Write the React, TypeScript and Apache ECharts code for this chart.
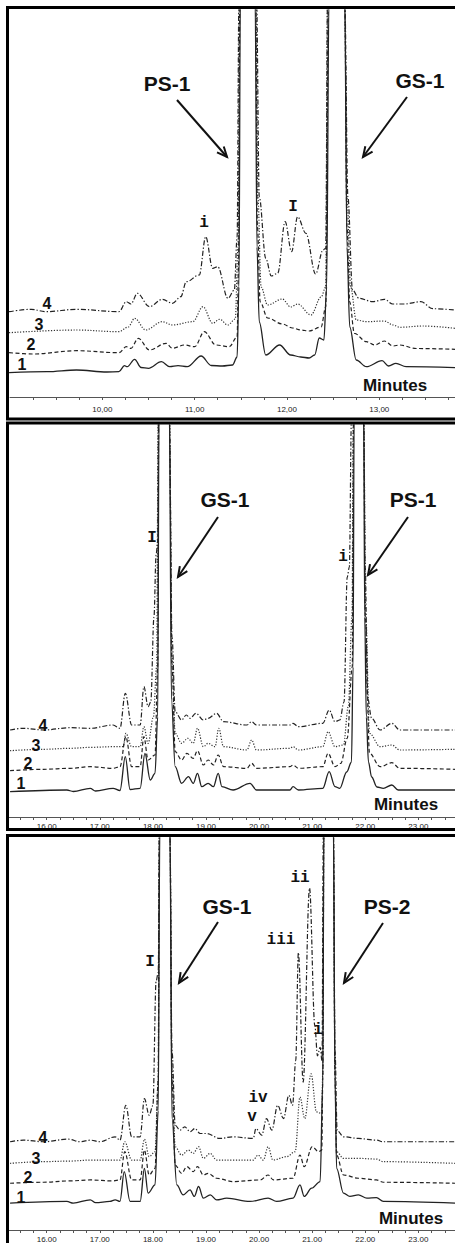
import React, { useEffect, useRef } from "react";
import * as echarts from "echarts";

type Pt = [number, number];

// ---------- Panel 1 : retention time (min) vs detector response (a.u.) ----------
const p1Trace1: Pt[] = [
  [8.99, 24.3], [9.4, 25.3], [9.72, 27], [10.05, 25], [10.18, 25.3], [10.24, 31.3], [10.27, 30.3],
  [10.35, 37.7], [10.42, 29.5], [10.5, 28.7], [10.64, 35.3], [10.73, 30.3], [10.82, 31.3], [10.92, 30.3],
  [11.07, 41], [11.18, 31.5], [11.3, 31], [11.41, 32], [11.46, 40], [11.48, 110], [11.495, 400],
  [11.575, 2000], [11.655, 400], [11.675, 150], [11.7, 75], [11.77, 42], [11.92, 52], [12.04, 42],
  [12.15, 40], [12.24, 39], [12.3, 42], [12.35, 59], [12.4, 57], [12.43, 110], [12.455, 400],
  [12.535, 2000], [12.625, 400], [12.65, 150], [12.68, 70], [12.75, 37], [12.86, 30.3], [13.03, 36.3],
  [13.1, 31], [13.18, 33.7], [13.29, 30.3], [13.82, 29.3],
];
const p1Trace2: Pt[] = [
  [8.99, 44.3], [9.25, 43], [9.72, 46.3], [10.18, 44.3], [10.26, 50.3], [10.31, 48.7], [10.39, 58.7],
  [10.51, 47], [10.69, 53.7], [10.76, 48.7], [10.89, 52], [11.0, 50.3], [11.105, 65.3], [11.23, 52],
  [11.375, 50.3], [11.46, 60], [11.475, 130], [11.49, 400], [11.575, 2000], [11.66, 400], [11.68, 170],
  [11.71, 95], [11.79, 79], [11.95, 73], [12.06, 69], [12.15, 67], [12.24, 66], [12.37, 70], [12.42, 90],
  [12.45, 400], [12.535, 2000], [12.625, 400], [12.65, 170], [12.68, 95], [12.73, 63.7], [12.86, 55.3],
  [12.95, 52], [13.055, 56], [13.15, 51], [13.22, 52], [13.4, 48.5], [13.82, 47.7],
];
const p1Trace3: Pt[] = [
  [8.99, 64.3], [9.72, 67], [10.18, 65.3], [10.28, 70], [10.35, 78.7], [10.47, 67], [10.65, 75.3],
  [10.76, 72], [10.98, 75.3], [11.09, 90.3], [11.195, 73.7], [11.27, 77.7], [11.36, 72], [11.44, 78],
  [11.47, 150], [11.485, 400], [11.575, 2000], [11.665, 400], [11.685, 200], [11.72, 110], [11.79, 92],
  [11.95, 98], [12.04, 90], [12.115, 93], [12.26, 82], [12.37, 100], [12.42, 110], [12.44, 400],
  [12.535, 2000], [12.625, 400], [12.65, 200], [12.69, 110], [12.75, 77], [12.86, 75.3], [13.055, 76],
  [13.15, 72], [13.22, 69.7], [13.47, 71], [13.82, 68.7],
];
const p1Trace4: Pt[] = [
  [8.99, 85.3], [9.23, 87.7], [9.39, 85.3], [9.72, 87.7], [10.18, 85.3], [10.26, 95.3], [10.31, 93],
  [10.38, 103.7], [10.51, 90.3], [10.65, 97.7], [10.76, 93.7], [10.85, 100.3], [10.91, 115.3],
  [11.05, 122], [11.12, 160.3], [11.195, 128.7], [11.25, 130.3], [11.36, 98.7], [11.43, 107],
  [11.46, 160], [11.48, 400], [11.575, 2000], [11.67, 400], [11.7, 200], [11.77, 138.7], [11.83, 121],
  [11.9, 123.7], [11.98, 175.3], [12.05, 145.3], [12.115, 180.3], [12.205, 163.7], [12.31, 123],
  [12.39, 147], [12.42, 148.7], [12.44, 400], [12.535, 2000], [12.625, 400], [12.66, 200], [12.71, 107],
  [12.78, 98.7], [12.93, 95.3], [13.055, 97.7], [13.145, 93], [13.27, 93], [13.45, 95.3], [13.58, 88.3],
  [13.82, 87],
];

// ---------- Panel 2 ----------
const p2Trace1: Pt[] = [
  [15.31, 25.3], [16.38, 27], [16.5, 25.5], [16.82, 28.7], [16.92, 26], [17.25, 28.7], [17.38, 26.5],
  [17.48, 60.3], [17.57, 27.5], [17.76, 28.7], [17.85, 63.7], [17.95, 37], [18.04, 43.7], [18.09, 100],
  [18.115, 400], [18.21, 2000], [18.31, 400], [18.35, 117], [18.42, 50.3], [18.54, 33.7], [18.67, 40.3],
  [18.76, 33.7], [18.84, 43.7], [18.92, 30.3], [19.04, 33.7], [19.14, 30.3], [19.23, 43.7], [19.3, 30.3],
  [19.51, 27], [19.83, 33.7], [19.95, 27], [20.58, 27], [20.64, 30.3], [20.74, 27], [21.2, 28.7],
  [21.32, 45.3], [21.43, 30.3], [21.52, 28.7], [21.65, 45], [21.74, 55], [21.77, 150], [21.79, 400],
  [21.88, 2000], [21.97, 400], [21.99, 200], [22.02, 100], [22.06, 55], [22.12, 40], [22.22, 30],
  [22.34, 28.7], [22.5, 32], [22.62, 27], [23.69, 27],
];
const p2Trace2: Pt[] = [
  [15.31, 46.3], [15.94, 47.7], [16.44, 48.7], [16.82, 50.3], [17.25, 48.7], [17.38, 50.3], [17.49, 80.3],
  [17.6, 50.3], [17.76, 50.3], [17.83, 80.3], [17.91, 57], [18.04, 62], [18.09, 150], [18.11, 400],
  [18.21, 2000], [18.31, 400], [18.36, 150], [18.42, 65.3], [18.54, 57], [18.64, 63.7], [18.76, 58.7],
  [18.84, 66.3], [18.95, 52], [19.04, 57], [19.14, 52], [19.23, 62], [19.33, 50.3], [19.77, 48.7],
  [19.86, 53.7], [19.95, 48.7], [20.58, 50.3], [20.64, 52], [20.74, 48.7], [21.2, 50.3], [21.3, 63.7],
  [21.43, 50.3], [21.54, 53.7], [21.66, 78.7], [21.755, 150], [21.78, 400], [21.88, 2000], [21.97, 400],
  [22.0, 200], [22.08, 63.7], [22.28, 50.3], [22.5, 54.3], [22.65, 48.7], [23.69, 47.7],
];
const p2Trace3: Pt[] = [
  [15.31, 66.3], [15.94, 67.7], [16.44, 68.7], [16.85, 69.7], [17.25, 70.3], [17.44, 70.3], [17.49, 83.7],
  [17.6, 70.3], [17.76, 70.3], [17.83, 90.3], [17.91, 73.7], [18.01, 100.3], [18.07, 150], [18.1, 400],
  [18.21, 2000], [18.31, 400], [18.36, 160], [18.42, 83.7], [18.54, 73.7], [18.66, 78.7], [18.76, 73.7],
  [18.84, 88.7], [18.95, 70.3], [19.04, 73.7], [19.17, 70.3], [19.24, 88.7], [19.33, 70.3], [19.77, 67],
  [19.86, 77], [19.95, 67], [20.58, 68.7], [20.64, 70.3], [20.74, 67], [21.2, 70.3], [21.3, 85.3],
  [21.43, 70.3], [21.59, 72], [21.68, 110.3], [21.75, 200], [21.775, 400], [21.88, 2000], [21.97, 400],
  [22.01, 200], [22.08, 83.7], [22.28, 70.3], [22.5, 72], [22.65, 67], [23.69, 67.7],
];
const p2Trace4: Pt[] = [
  [15.31, 87], [15.56, 88.7], [15.94, 87], [16.44, 89.3], [16.82, 88.7], [17.25, 92], [17.38, 88.7],
  [17.48, 123.7], [17.6, 92], [17.76, 92], [17.83, 130.3], [17.91, 110.3], [17.96, 115], [18.02, 200],
  [18.06, 262], [18.09, 275], [18.105, 400], [18.21, 2000], [18.31, 400], [18.36, 180], [18.42, 105.3],
  [18.54, 97], [18.63, 102], [18.7, 98.7], [18.81, 103.7], [18.95, 97], [19.04, 98.7], [19.2, 103.7],
  [19.33, 95.3], [19.77, 92], [19.86, 95.3], [19.95, 92], [20.58, 92], [20.64, 93.7], [20.74, 90.3],
  [21.2, 93.7], [21.32, 107], [21.43, 95.3], [21.52, 97], [21.6, 115], [21.66, 240], [21.7, 250],
  [21.74, 400], [21.88, 2000], [21.97, 400], [22.0, 250], [22.04, 120.3], [22.12, 98.7], [22.28, 87],
  [22.5, 93.7], [22.65, 87], [23.69, 87],
];

// ---------- Panel 3 ----------
const p3Trace1: Pt[] = [
  [15.31, 27], [16.38, 28.7], [16.5, 27], [16.82, 30.3], [16.92, 27.5], [17.19, 28.7], [17.29, 30.3],
  [17.38, 28.7], [17.46, 58.7], [17.57, 28.7], [17.76, 28.7], [17.84, 62], [17.91, 37], [18.04, 45.3],
  [18.1, 120], [18.13, 400], [18.22, 2000], [18.32, 400], [18.36, 112], [18.45, 45.3], [18.57, 35.3],
  [18.7, 40.3], [18.78, 33.7], [18.86, 43.7], [18.95, 32], [19.08, 35.3], [19.2, 30.3], [19.39, 32],
  [19.83, 28.7], [20.17, 32], [20.33, 28.7], [20.64, 32], [20.77, 45.3], [20.85, 33.7], [20.99, 42],
  [21.15, 48.7], [21.2, 150], [21.22, 400], [21.3, 2000], [21.4, 400], [21.43, 150], [21.46, 62],
  [21.59, 37], [21.71, 33.7], [21.87, 35.3], [22.03, 32], [22.21, 32.5], [22.34, 28.7], [23.69, 27],
];
const p3Trace2: Pt[] = [
  [15.31, 47], [15.94, 48], [16.41, 49.3], [16.82, 50.3], [17.25, 49.3], [17.38, 50.3], [17.47, 78.7],
  [17.6, 50.3], [17.76, 50.3], [17.84, 80.3], [17.93, 55.3], [18.04, 62], [18.1, 150], [18.12, 400],
  [18.22, 2000], [18.32, 400], [18.36, 150], [18.42, 65.3], [18.54, 57], [18.64, 63.7], [18.76, 58.7],
  [18.84, 63.7], [18.95, 55.3], [19.04, 57], [19.2, 52], [19.51, 48.7], [20.02, 50.3], [20.17, 55.3],
  [20.27, 50.3], [20.64, 52], [20.77, 75.3], [20.85, 63.7], [21.0, 83.7], [21.12, 78.7], [21.18, 80.3],
  [21.2, 150], [21.22, 400], [21.3, 2000], [21.4, 400], [21.43, 150], [21.46, 75.3], [21.59, 55.3],
  [21.87, 52], [22.21, 50.3], [22.34, 48], [23.69, 47],
];
const p3Trace3: Pt[] = [
  [15.31, 67], [15.94, 68.7], [16.44, 69.3], [16.82, 70.3], [17.25, 70.3], [17.38, 70.3], [17.47, 88.7],
  [17.6, 70.3], [17.76, 70.3], [17.84, 91.3], [17.93, 73.7], [18.04, 78.7], [18.1, 150], [18.12, 400],
  [18.22, 2000], [18.32, 400], [18.36, 160], [18.42, 83.7], [18.54, 75.3], [18.67, 80.3], [18.76, 77],
  [18.86, 83.7], [18.95, 72], [19.08, 77], [19.2, 70.3], [19.51, 70.3], [19.89, 70.3], [19.98, 75.3],
  [20.08, 70.3], [20.17, 83.7], [20.26, 70.3], [20.52, 73.7], [20.68, 78.7], [20.77, 133.7], [20.86, 112],
  [20.98, 157], [21.08, 118.7], [21.18, 117], [21.2, 160], [21.22, 400], [21.3, 2000], [21.4, 400],
  [21.43, 160], [21.46, 78.7], [21.59, 72], [21.87, 72], [22.21, 71.3], [22.34, 68.7], [23.69, 67],
];
const p3Trace4: Pt[] = [
  [15.31, 88.7], [15.56, 90.3], [15.94, 88.7], [16.41, 91.3], [16.63, 88.7], [16.82, 90.3], [17.0, 88.7],
  [17.29, 93.7], [17.38, 90.3], [17.49, 125.3], [17.6, 93.7], [17.76, 93.7], [17.84, 132], [17.93, 115.3],
  [18.0, 125], [18.06, 250], [18.1, 258.7], [18.125, 400], [18.22, 2000], [18.32, 400], [18.36, 180],
  [18.42, 105.3], [18.51, 100.3], [18.6, 103.7], [18.7, 98.7], [18.79, 102], [18.89, 97], [19.01, 97],
  [19.26, 92], [19.51, 93.7], [19.89, 92], [19.94, 102], [20.05, 95.3], [20.14, 112], [20.24, 100.3],
  [20.35, 125.3], [20.46, 112], [20.56, 135.3], [20.63, 125.3], [20.69, 170], [20.74, 278.7],
  [20.83, 148.7], [20.95, 343.7], [21.05, 205.3], [21.1, 175], [21.15, 183.7], [21.185, 170],
  [21.21, 400], [21.3, 2000], [21.4, 400], [21.43, 180], [21.47, 100], [21.59, 93.7], [21.87, 92],
  [22.21, 90.3], [22.34, 88.7], [23.69, 88.7],
];

const traceNames = ["1", "2", "3", "4"];
const axisTitle = "Minutes";
const p1PeakLabels = ["PS-1", "GS-1"];
const p2PeakLabels = ["GS-1", "PS-1"];
const p3PeakLabels = ["GS-1", "PS-2"];
const p1Impurities = ["i", "I"];
const p2Impurities = ["I", "i"];
const p3Impurities = ["I", "ii", "iii", "i", "iv", "v"];

const lineTypes: any[] = ["solid", [4, 2.5], [1.2, 1.6], [5, 2, 1.3, 2]];

const SANS = '"Liberation Sans", Arial, Helvetica, sans-serif';
const MONO = '"Liberation Mono", "Courier New", monospace';

function txt(text: string, x: number, y: number, size: number, family: string) {
  return {
    type: "text",
    z: 100,
    x,
    y,
    style: {
      text,
      fill: "#111",
      fontSize: size,
      fontWeight: "bold",
      fontFamily: family,
      align: "center",
      verticalAlign: "middle",
    },
  };
}

function arrow(x1: number, y1: number, x2: number, y2: number) {
  const ang = Math.atan2(y2 - y1, x2 - x1);
  const L = 11;
  const a = 0.42;
  const h1 = [x2 - L * Math.cos(ang - a), y2 - L * Math.sin(ang - a)];
  const h2 = [x2 - L * Math.cos(ang + a), y2 - L * Math.sin(ang + a)];
  return [
    { type: "line", z: 100, shape: { x1, y1, x2, y2 }, style: { stroke: "#111", lineWidth: 2 } },
    {
      type: "polyline",
      z: 100,
      shape: { points: [h1, [x2, y2], h2] },
      style: { stroke: "#111", lineWidth: 2, fill: null },
    },
  ];
}

export default function App() {
  const ref = useRef<HTMLDivElement>(null);

  useEffect(() => {
    if (!ref.current) return;
    const chart = echarts.init(ref.current, null, { renderer: "svg" });

    const panels = [
      { grid: { left: 10, top: 10, width: 445, height: 387 }, min: 9.0, max: 13.82, yMax: 387, sep: ",", margin: 8,
        traces: [p1Trace1, p1Trace2, p1Trace3, p1Trace4] },
      { grid: { left: 6.9, top: 425, width: 448.1, height: 392 }, min: 15.25, max: 23.69, yMax: 392, sep: ".", margin: 5,
        traces: [p2Trace1, p2Trace2, p2Trace3, p2Trace4] },
      { grid: { left: 6.9, top: 838, width: 448.1, height: 394 }, min: 15.25, max: 23.69, yMax: 394, sep: ".", margin: 5,
        traces: [p3Trace1, p3Trace2, p3Trace3, p3Trace4] },
    ];

    const series: any[] = [];
    panels.forEach((p, pi) => {
      p.traces.forEach((data, ti) => {
        series.push({
          type: "line",
          name: `P${pi + 1}-${traceNames[ti]}`,
          xAxisIndex: pi,
          yAxisIndex: pi,
          data,
          showSymbol: false,
          symbol: "none",
          smooth: 0.35,
          smoothMonotone: "x",
          clip: true,
          silent: true,
          lineStyle: { type: lineTypes[ti], width: ti === 0 ? 1.3 : 1.2, color: ti === 2 ? "#333" : "#222" },
          z: 10 - ti,
        });
      });
    });

    const graphic: any[] = [
      // panel frames
      { type: "rect", z: 90, shape: { x: 7.5, y: 7.5, width: 460, height: 411.5 }, style: { fill: null, stroke: "#000", lineWidth: 3 } },
      { type: "rect", z: 90, shape: { x: 7.5, y: 423, width: 460, height: 406.5 }, style: { fill: null, stroke: "#000", lineWidth: 3 } },
      { type: "rect", z: 90, shape: { x: 7.5, y: 835.5, width: 460, height: 500 }, style: { fill: null, stroke: "#000", lineWidth: 3 } },

      // panel 1
      txt(p1PeakLabels[0], 167, 83, 21, SANS),
      txt(p1PeakLabels[1], 420, 80, 21, SANS),
      ...arrow(177, 100, 227, 157),
      ...arrow(407, 97, 363, 157),
      txt(p1Impurities[0], 204, 223, 16, MONO),
      txt(p1Impurities[1], 293, 207, 16, MONO),
      txt(axisTitle, 395, 385, 17, SANS),
      txt(traceNames[3], 47, 303, 16, SANS),
      txt(traceNames[2], 39, 324, 16, SANS),
      txt(traceNames[1], 31, 344, 16, SANS),
      txt(traceNames[0], 22, 364, 16, SANS),

      // panel 2
      txt(p2PeakLabels[0], 225, 499, 21, SANS),
      txt(p2PeakLabels[1], 413, 499, 21, SANS),
      ...arrow(218, 517, 178, 577),
      ...arrow(408, 517, 368, 575),
      txt(p2Impurities[0], 152, 538, 16, MONO),
      txt(p2Impurities[1], 343, 557, 16, MONO),
      txt(axisTitle, 406, 804, 17, SANS),
      txt(traceNames[3], 43, 725, 16, SANS),
      txt(traceNames[2], 36, 745, 16, SANS),
      txt(traceNames[1], 28, 763, 16, SANS),
      txt(traceNames[0], 21, 783, 16, SANS),

      // panel 3
      txt(p3PeakLabels[0], 227, 906, 21, SANS),
      txt(p3PeakLabels[1], 387, 906, 21, SANS),
      ...arrow(218, 922, 179, 983),
      ...arrow(383, 923, 344, 983),
      txt(p3Impurities[0], 150, 962, 16, MONO),
      txt(p3Impurities[1], 300, 878, 16, MONO),
      txt(p3Impurities[2], 281, 940, 16, MONO),
      txt(p3Impurities[3], 318, 1030, 16, MONO),
      txt(p3Impurities[4], 258, 1098, 16, MONO),
      txt(p3Impurities[5], 252, 1117, 16, MONO),
      txt(axisTitle, 411, 1218, 17, SANS),
      txt(traceNames[3], 43, 1137, 16, SANS),
      txt(traceNames[2], 36, 1158, 16, SANS),
      txt(traceNames[1], 28, 1177, 16, SANS),
      txt(traceNames[0], 21, 1197, 16, SANS),
    ];

    chart.setOption({
      animation: false,
      backgroundColor: "#fff",
      grid: panels.map((p) => ({ ...p.grid, containLabel: false })),
      xAxis: panels.map((p, i) => ({
        type: "value",
        gridIndex: i,
        min: p.min,
        max: p.max,
        interval: 0.25,
        splitLine: { show: false },
        axisLine: { show: true, onZero: false, lineStyle: { color: "#555", width: 1 } },
        axisTick: { show: true, inside: false, length: 3, lineStyle: { color: "#555" } },
        axisLabel: {
          show: true,
          interval: 0,
          margin: p.margin,
          fontSize: 8,
          color: "#222",
          fontFamily: SANS,
          showMinLabel: false,
          showMaxLabel: false,
          formatter: (v: number) =>
            Math.abs(v - Math.round(v)) < 1e-6 ? Math.round(v).toFixed(2).replace(".", p.sep) : "",
        },
      })),
      yAxis: panels.map((p, i) => ({
        type: "value",
        gridIndex: i,
        min: 0,
        max: p.yMax,
        show: false,
        splitLine: { show: false },
      })),
      series,
      graphic,
    });

    return () => chart.dispose();
  }, []);

  return (
    <div
      ref={ref}
      style={{ position: "fixed", left: 0, top: 0, width: 455, height: 1243, background: "#fff" }}
    />
  );
}
